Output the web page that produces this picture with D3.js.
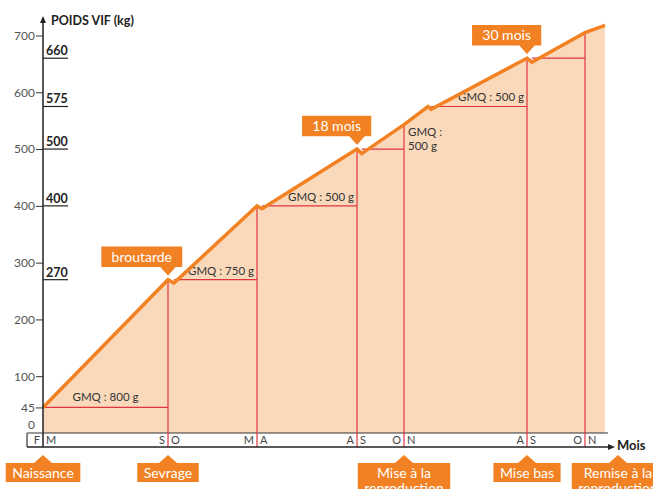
<!DOCTYPE html>
<html>
<head>
<meta charset="utf-8">
<script src="https://cdn.jsdelivr.net/npm/d3@7"></script>
<style>
body { margin: 0; background: #fff; }
svg { display: block; font-family: Lato, "Open Sans", sans-serif; }
</style>
</head>
<body>
<svg width="653" height="489"></svg>
<script>
var pic = d3.select("svg");

// growth curve: age in months since birth, live weight in kg
var curveMonths = [0, 7, 7.4, 13, 13.25, 18, 18.2, 20, 21.95, 22.2, 30, 30.17, 32, 33];
var curveWeights = [45, 270, 264, 400, 395, 500, 492, 543, 575, 570, 660, 653, 705, 718];

// month boundaries of the strip (letter before / after)
var stepMonths = [0, 7, 13, 18, 20, 30, 32];
var leftLetters = ['F', 'S', 'M', 'A', 'O', 'A', 'O'];
var rightLetters = ['M', 'O', 'A', 'S', 'N', 'S', 'N'];

// horizontal guides (GMQ = daily weight gain)
var gmqStart = [0, 7.4, 13.25, 18.2, 22.2, 30.17];
var gmqEnd = [7, 13, 18, 20, 30, 32];
var gmqWeight = [45, 270, 400, 500, 575, 660];
var gmqLabels = ['GMQ : 800 g', 'GMQ : 750 g', 'GMQ : 500 g', 'GMQ :|500 g', 'GMQ : 500 g', ''];
var gmqAlign = ['middle', 'end', 'end', 'after', 'end', 'end'];

// y axis
var yTicks = [45, 100, 200, 300, 400, 500, 600, 700];
var keyWeights = [270, 400, 500, 575, 660];

// callouts
var topNotes = ['broutarde', '18 mois', '30 mois'];
var topMonths = [7, 18, 30];
var bottomNotes = ['Naissance', 'Sevrage', 'Mise à la|reproduction', 'Mise bas', 'Remise à la|reproduction'];
var bottomMonths = [0, 7, 20, 30, 32];

var orange = '#F28123';
var red = '#E0353F';
var peach = '#FAD9BB';

// the time axis is schematic, so the scale is piecewise
var x = d3.scaleLinear().domain([0, 7, 13, 18, 20, 30, 32, 33])
  .range([43, 168, 257, 357, 404, 527, 585, 605]);
var y = d3.scaleLinear().domain([0, 700]).range([433, 35.5]);

var stripTop = y(0);
var stripBottom = 447;

var pts = d3.zip(curveMonths, curveWeights);
var weightAt = function(m) { return curveWeights[curveMonths.indexOf(m)]; };

// fill under the curve
var area = d3.area().x(d => x(d[0])).y0(stripTop).y1(d => y(d[1]));
pic.append('path').attr('d', area(pts)).attr('fill', peach);

// month strip
pic.append('rect').attr('x', 27).attr('y', stripTop).attr('width', 581).attr('height', stripBottom - stripTop)
  .attr('fill', '#fff');
pic.append('line').attr('x1', 27).attr('x2', 608).attr('y1', stripTop).attr('y2', stripTop)
  .attr('stroke', '#333').attr('stroke-width', 1.2);
pic.append('line').attr('x1', 27).attr('x2', 27).attr('y1', stripTop).attr('y2', stripBottom)
  .attr('stroke', '#333').attr('stroke-width', 1.2);

stepMonths.forEach(function(m, i) {
  pic.append('text').attr('x', x(m) - 3).attr('y', 444).attr('text-anchor', 'end')
    .attr('font-size', 11).attr('fill', '#444').text(leftLetters[i]);
  pic.append('text').attr('x', x(m) + 3).attr('y', 444)
    .attr('font-size', 11).attr('fill', '#444').text(rightLetters[i]);
});

// red guides: horizontals then verticals
gmqStart.forEach(function(s, i) {
  var yy = y(gmqWeight[i]);
  pic.append('line').attr('x1', x(s)).attr('x2', x(gmqEnd[i])).attr('y1', yy).attr('y2', yy)
    .attr('stroke', red).attr('stroke-width', 1.2);
  var lab = gmqLabels[i];
  if (!lab) return;
  var t = pic.append('text').attr('font-size', 11.5).attr('fill', '#333');
  if (gmqAlign[i] == 'after') {
    lab.split('|').forEach(function(s2, j) {
      t.append('tspan').attr('x', x(gmqEnd[i]) + 4).attr('y', yy - 13 + j * 14).text(s2);
    });
  } else if (gmqAlign[i] == 'middle') {
    t.attr('x', (x(s) + x(gmqEnd[i])) / 2).attr('y', yy - 6).attr('text-anchor', 'middle').text(lab);
  } else {
    t.attr('x', x(gmqEnd[i]) - 3).attr('y', yy - 5).attr('text-anchor', 'end').text(lab);
  }
});

stepMonths.slice(1).forEach(function(m) {
  pic.append('line').attr('x1', x(m)).attr('x2', x(m)).attr('y1', y(weightAt(m))).attr('y2', stripBottom)
    .attr('stroke', red).attr('stroke-width', 1.2);
});

// growth curve
var line = d3.line().x(d => x(d[0])).y(d => y(d[1]));
pic.append('path').attr('d', line(pts)).attr('fill', 'none').attr('stroke', orange)
  .attr('stroke-width', 3.5).attr('stroke-linejoin', 'miter');

// y axis
var yAxis = d3.axisLeft(y).tickValues(yTicks).tickSize(7).tickPadding(1);
var ga = pic.append('g').attr('transform', 'translate(43,0)').call(yAxis);
ga.select('.domain').remove();
ga.selectAll('text').attr('font-size', 12).attr('fill', '#555').attr('font-family', 'Lato, sans-serif');
ga.selectAll('line').attr('stroke', '#333');
pic.append('text').attr('x', 35).attr('y', 429).attr('text-anchor', 'end')
  .attr('font-size', 12).attr('fill', '#555').text('0');

pic.append('line').attr('x1', 43).attr('x2', 43).attr('y1', 21).attr('y2', stripBottom)
  .attr('stroke', '#222').attr('stroke-width', 1.5);
pic.append('path').attr('d', 'M43,16 L40,23 L46,23 Z').attr('fill', '#222');
pic.append('text').attr('x', 51).attr('y', 25).attr('font-size', 12.5).attr('font-weight', 'bold')
  .attr('fill', '#222').text('POIDS VIF (kg)');

keyWeights.forEach(function(w) {
  pic.append('text').attr('x', 46).attr('y', y(w) - 3).attr('font-size', 12.5).attr('font-weight', 'bold')
    .attr('fill', '#222').text(w);
  pic.append('line').attr('x1', 43).attr('x2', 68).attr('y1', y(w)).attr('y2', y(w))
    .attr('stroke', '#222').attr('stroke-width', 1.2);
});

// x axis
pic.append('line').attr('x1', 27).attr('x2', 610).attr('y1', stripBottom).attr('y2', stripBottom)
  .attr('stroke', '#222').attr('stroke-width', 1.5);
pic.append('path').attr('d', 'M615,447 L608,444 L608,450 Z').attr('fill', '#222');
pic.append('text').attr('x', 617).attr('y', 450).attr('font-size', 13).attr('font-weight', 'bold')
  .attr('fill', '#222').text('Mois');

// callouts above the curve
topNotes.forEach(function(n, i) {
  var tx = x(topMonths[i]);
  var ty = y(weightAt(topMonths[i]));
  var g = pic.append('g');
  var t = g.append('text').attr('font-size', 14).attr('fill', '#fff').text(n);
  var w = t.node().getComputedTextLength() + 22;
  var right = tx + 15;
  var bottom = ty - 12;
  g.insert('path', 'text')
    .attr('d', 'M' + (right - w) + ',' + (bottom - 22) + 'H' + right + 'V' + bottom +
      'H' + (tx + 8) + 'L' + tx + ',' + (ty - 3) + 'L' + (tx - 8) + ',' + bottom + 'H' + (right - w) + 'Z')
    .attr('fill', orange).attr('stroke', '#fff').attr('stroke-width', 1.5);
  t.attr('x', right - w / 2).attr('y', bottom - 6).attr('text-anchor', 'middle');
});

// callouts under the axis
bottomNotes.forEach(function(n, i) {
  var tx = x(bottomMonths[i]);
  var cx = (i == 4) ? tx + 33 : tx; // last box pushed right
  var lines = n.split('|');
  var g = pic.append('g');
  var t = g.append('text').attr('font-size', 14).attr('fill', '#fff').attr('text-anchor', 'middle');
  lines.forEach(function(s, j) {
    t.append('tspan').attr('x', cx).attr('y', 478 + j * 15).text(s);
  });
  var w = d3.max(t.selectAll('tspan').nodes(), d => d.getComputedTextLength()) + 13;
  var h = lines.length > 1 ? 34 : 19;
  var top = 463;
  g.insert('path', 'text')
    .attr('d', 'M' + (cx - w / 2) + ',' + top + 'H' + (cx - 9) + 'L' + cx + ',' + (top - 8) +
      'L' + (cx + 9) + ',' + top + 'H' + (cx + w / 2) + 'V' + (top + h) + 'H' + (cx - w / 2) + 'Z')
    .attr('fill', orange);
});
</script>
</body>
</html>
